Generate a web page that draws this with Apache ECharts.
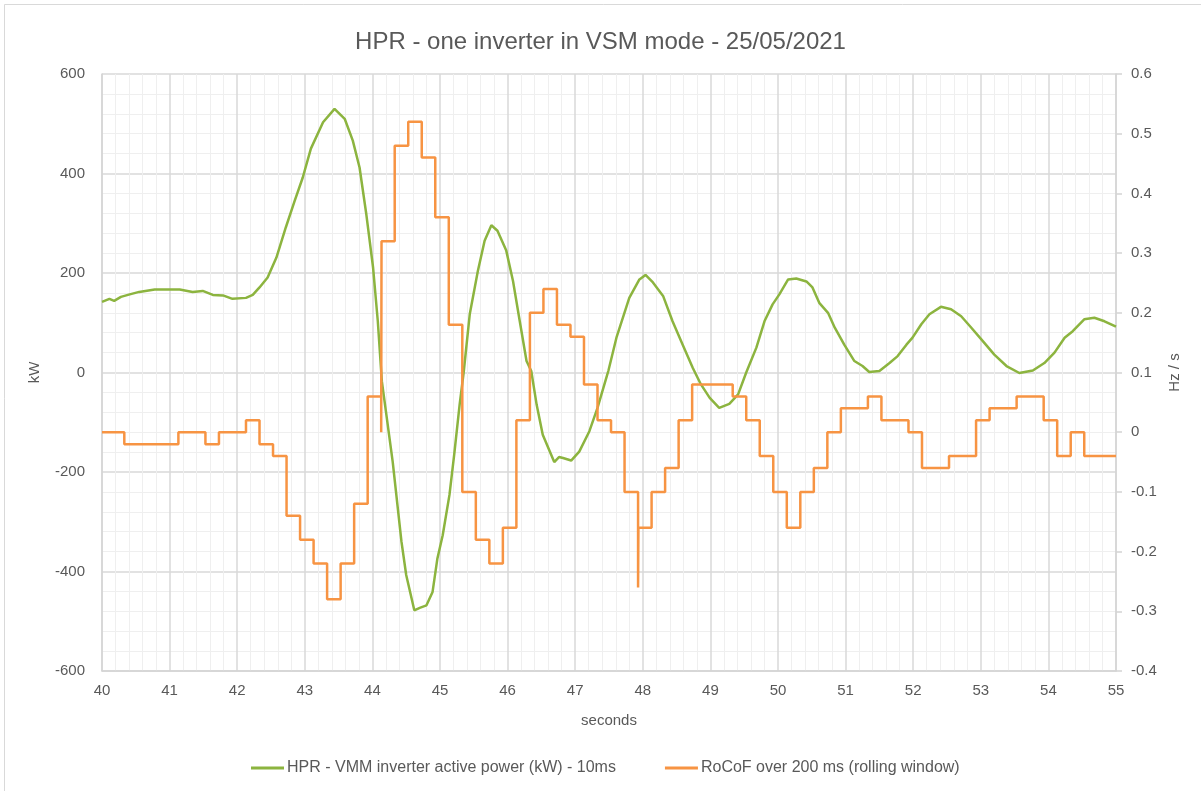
<!DOCTYPE html>
<html>
<head>
<meta charset="utf-8">
<script src="https://cdn.jsdelivr.net/npm/echarts@6/dist/echarts.min.js"></script>
<style>
  html, body { margin: 0; padding: 0; background: #fff; }
  #chart { width: 1201px; height: 791px; }
</style>
</head>
<body>
<div id="chart"></div>
<script>
// active power samples (seconds, kW)
const powerTime = [
  40.00, 40.11, 40.18, 40.28, 40.41, 40.55, 40.78, 41.15, 41.34, 41.49,
  41.64, 41.79, 41.93, 42.13, 42.23, 42.33, 42.45, 42.58, 42.72, 42.85,
  42.97, 43.09, 43.27, 43.44, 43.59, 43.71, 43.81, 43.91, 44.01, 44.08,
  44.14, 44.20, 44.30, 44.43, 44.50, 44.62, 44.70, 44.80, 44.89, 44.96,
  45.04, 45.14, 45.21, 45.29, 45.35, 45.44, 45.56, 45.66, 45.76, 45.85,
  45.98, 46.08, 46.18, 46.28, 46.35, 46.43, 46.52, 46.69, 46.76, 46.82,
  46.94, 47.06, 47.21, 47.33, 47.46, 47.49, 47.61, 47.80, 47.95, 48.04,
  48.15, 48.30, 48.44, 48.59, 48.74, 48.86, 48.99, 49.13, 49.28, 49.41,
  49.53, 49.68, 49.80, 49.92, 50.02, 50.15, 50.27, 50.42, 50.51, 50.61,
  50.74, 50.84, 50.98, 51.13, 51.25, 51.35, 51.50, 51.65, 51.77, 51.90,
  51.99, 52.12, 52.24, 52.41, 52.56, 52.71, 52.86, 53.03, 53.20, 53.38,
  53.57, 53.77, 53.94, 54.09, 54.24, 54.36, 54.53, 54.68, 54.83, 55.00
]
const powerKW = [
  142, 148, 144, 152, 157, 162, 167, 167, 162, 164,
  156, 155, 148, 150, 156, 171, 191, 231, 292, 345,
  392, 450, 503, 530, 510, 466, 412, 318, 211, 103,
  -18, -78, -179, -340, -407, -478, -473, -468, -441, -375,
  -327, -246, -165, -65, 0, 117, 204, 265, 296, 285,
  245, 184, 103, 23, 3, -65, -125, -180, -170, -172,
  -177, -159, -118, -71, -11, 3, 70, 150, 187, 196,
  181, 154, 103, 56, 9, -24, -51, -71, -63, -44,
  0, 50, 103, 137, 157, 187, 189, 183, 171, 140,
  120, 90, 56, 23, 13, 1, 3, 19, 33, 56,
  70, 97, 117, 132, 127, 113, 90, 63, 36, 13,
  -1, 4, 19, 40, 70, 83, 107, 110, 103, 92
]

// RoCoF steps: value holds from each start time until the next one
const rocofTime = [
  40.00, 40.33, 41.13, 41.53, 41.73, 42.13, 42.33, 42.53, 42.73, 42.93,
  43.13, 43.33, 43.53, 43.73, 43.93, 44.13, 44.135, 44.33, 44.53, 44.73,
  44.93, 45.13, 45.33, 45.53, 45.73, 45.93, 46.13, 46.33, 46.53, 46.73,
  46.93, 47.13, 47.33, 47.53, 47.73, 47.93, 47.935, 48.13, 48.33, 48.53,
  48.73, 49.33, 49.53, 49.73, 49.93, 50.13, 50.33, 50.53, 50.73, 50.93,
  51.33, 51.53, 51.93, 52.13, 52.53, 52.93, 53.13, 53.53, 53.93, 54.13,
  54.33, 54.53, 55.00
]
const rocofHz = [
  0, -0.02, 0, -0.02, 0, 0.02, -0.02, -0.04, -0.14, -0.18,
  -0.22, -0.28, -0.22, -0.12, 0.06, 0, 0.32, 0.48, 0.52, 0.46,
  0.36, 0.18, -0.10, -0.18, -0.22, -0.16, 0.02, 0.20, 0.24, 0.18,
  0.16, 0.08, 0.02, 0, -0.10, -0.26, -0.16, -0.10, -0.06, 0.02,
  0.08, 0.06, 0.02, -0.04, -0.10, -0.16, -0.10, -0.06, 0, 0.04,
  0.06, 0.02, 0, -0.06, -0.04, 0.02, 0.04, 0.06, 0.02, -0.04,
  0, -0.04, -0.04
]

const seriesNames = [
  'HPR - VMM inverter active power (kW) - 10ms',
  'RoCoF over 200 ms (rolling window)'
]

const font = '"Liberation Sans", Arial, sans-serif'
const textGray = '#595959'
const green = '#8cb43f'
const orange = '#f79443'

const chart = echarts.init(document.getElementById('chart'))

chart.setOption({
  backgroundColor: '#fff',
  animation: false,
  textStyle: { fontFamily: font },
  graphic: [{
    type: 'rect',
    shape: { x: 4.5, y: 4.5, width: 1220, height: 820 },
    style: { fill: 'none', stroke: '#d9d9d9', lineWidth: 1 },
    silent: true
  }],
  title: {
    text: 'HPR - one inverter in VSM mode - 25/05/2021',
    left: 'center',
    top: 25,
    textStyle: { fontFamily: font, fontSize: 24, fontWeight: 'normal', color: textGray }
  },
  legend: {
    left: 251,
    top: 760,
    padding: 0,
    itemGap: 49,
    itemWidth: 33,
    itemHeight: 3,
    icon: 'rect',
    textStyle: { fontFamily: font, fontSize: 16, color: textGray, padding: [0, 0, 0, -2] },
    data: seriesNames
  },
  grid: { left: 102, right: 85, top: 74, bottom: 120, containLabel: false },
  xAxis: {
    type: 'value',
    min: 40,
    max: 55,
    interval: 1,
    name: 'seconds',
    nameLocation: 'middle',
    nameGap: 42,
    nameTextStyle: { fontFamily: font, fontSize: 15, color: textGray },
    axisLine: { onZero: false, lineStyle: { color: '#d4d4d4', width: 1.5 } },
    axisTick: { show: false },
    axisLabel: { fontFamily: font, fontSize: 15, color: textGray, margin: 12 },
    splitLine: { lineStyle: { color: '#d9d9d9', width: 1.5 } },
    minorTick: { show: false, splitNumber: 5 },
    minorSplitLine: { show: true, lineStyle: { color: '#efefef', width: 1 } }
  },
  yAxis: [
    {
      type: 'value',
      min: -600,
      max: 600,
      interval: 200,
      name: 'kW',
      nameLocation: 'middle',
      nameRotate: 90,
      nameGap: 60,
      nameTextStyle: { fontFamily: font, fontSize: 15, color: textGray },
      axisLine: { show: true, lineStyle: { color: '#d4d4d4', width: 1.5 } },
      axisTick: { show: false },
      axisLabel: { fontFamily: font, fontSize: 15, color: textGray, margin: 17 },
      splitLine: { lineStyle: { color: '#d9d9d9', width: 1.5 } },
      minorTick: { show: false, splitNumber: 5 },
      minorSplitLine: { show: true, lineStyle: { color: '#efefef', width: 1 } }
    },
    {
      type: 'value',
      position: 'right',
      min: -0.4,
      max: 0.6,
      interval: 0.1,
      name: 'Hz / s',
      nameLocation: 'middle',
      nameRotate: 90,
      nameGap: 46,
      nameTextStyle: { fontFamily: font, fontSize: 15, color: textGray },
      axisLine: { show: true, lineStyle: { color: '#d4d4d4', width: 1.5 } },
      axisTick: { show: true, length: 6, lineStyle: { color: '#d4d4d4', width: 1.5 } },
      axisLabel: {
        fontFamily: font, fontSize: 15, color: textGray, margin: 15,
        formatter: v => {
          const r = Math.round(v * 10) / 10
          return r === 0 ? '0' : String(r)
        }
      },
      splitLine: { show: false }
    }
  ],
  series: [
    {
      name: seriesNames[0],
      type: 'line',
      yAxisIndex: 0,
      showSymbol: false,
      symbol: 'none',
      smooth: false,
      lineStyle: { color: green, width: 2.5 },
      itemStyle: { color: green },
      data: powerTime.map((t, i) => [t, powerKW[i]])
    },
    {
      name: seriesNames[1],
      type: 'line',
      yAxisIndex: 1,
      step: 'end',
      showSymbol: false,
      symbol: 'none',
      lineStyle: { color: orange, width: 2.5 },
      itemStyle: { color: orange },
      data: rocofTime.map((t, i) => [t, rocofHz[i]])
    }
  ]
})
</script>
</body>
</html>
